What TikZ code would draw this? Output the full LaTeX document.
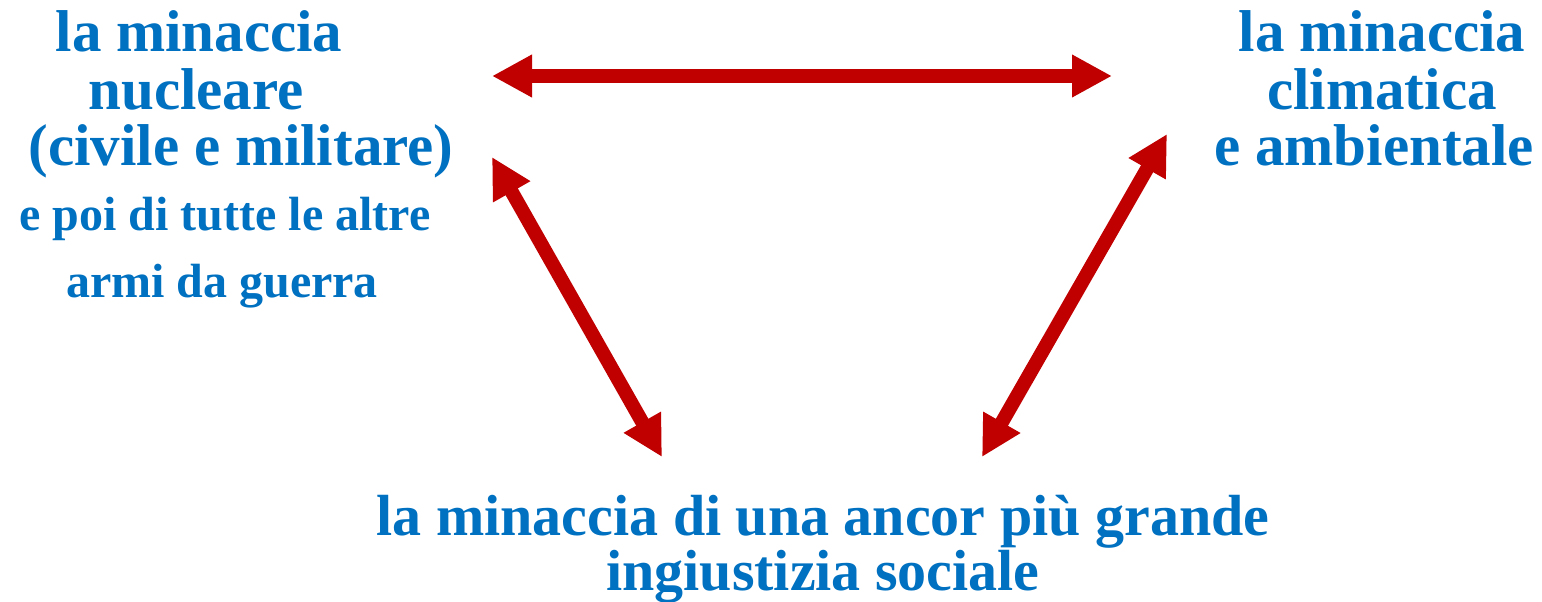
\documentclass[tikz,border=0pt]{standalone}
\usepackage{fontspec}
\setmainfont{Liberation Serif}
\usetikzlibrary{arrows.meta}
\definecolor{txtblue}{HTML}{0070C0}
\definecolor{arrred}{HTML}{C00000}
\tikzset{
  big/.style={inner sep=0pt, anchor=base, text=txtblue, font=\fontsize{59}{59}\selectfont\bfseries},
  small/.style={inner sep=0pt, anchor=base, text=txtblue, font=\fontsize{48}{48}\selectfont\bfseries},
  bottom/.style={inner sep=0pt, anchor=base, text=txtblue, font=\fontsize{58}{58}\selectfont\bfseries},
  link/.style={draw=arrred, line width=14pt, {Triangle[length=40pt,width=40pt]}-{Triangle[length=40pt,width=40pt]}}
}
\begin{document}
\begin{tikzpicture}[x=1pt,y=-1pt]
\useasboundingbox (0,0) rectangle (1542,602);
% top-left group
\node[big] (nA) at (199,52) {la minaccia};
\node[big] (nB) at (196,110) {nucleare};
\node[big] (nC) at (241,165) {(civile e militare)};
\node[small] (nD) at (225,230) {e poi di tutte le altre};
\node[small] (nE) at (222,297) {armi da guerra};
% top-right group
\node[big] (cA) at (1382,52) {la minaccia};
\node[big] (cB) at (1382,110) {climatica};
\node[big] (cC) at (1374,165) {e ambientale};
% bottom group
\node[bottom] (sA) at (823,535) {la minaccia di una ancor più grande};
\node[bottom] (sB) at (823,590) {ingiustizia sociale};
% arrow ends
\coordinate (h1) at (492,76);
\coordinate (h2) at (1112,76);
\coordinate (l1) at (492,157);
\coordinate (l2) at (662,457);
\coordinate (r1) at (1167,134);
\coordinate (r2) at (982,457);
\draw[link] (h1) -- (h2);
\draw[link] (l1) -- (l2);
\draw[link] (r1) -- (r2);
\end{tikzpicture}
\end{document}
